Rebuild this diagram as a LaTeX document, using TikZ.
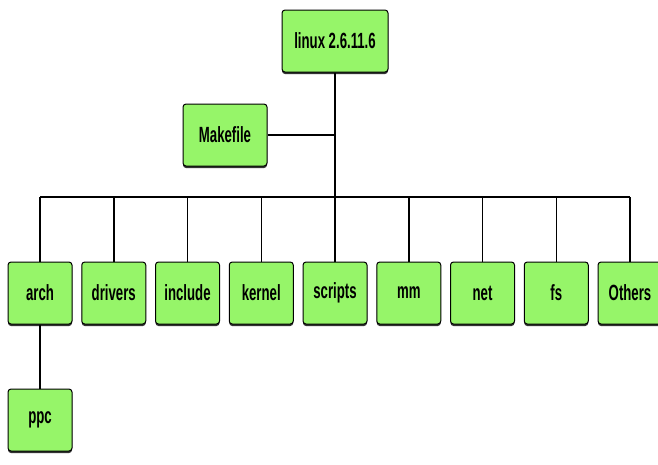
\documentclass[tikz,border=0pt]{standalone}
\usepackage{fontspec}
\setmainfont{Liberation Sans}[FakeStretch=0.6]
\usepackage{tikz}
\usetikzlibrary{shadows}
\definecolor{boxgreen}{RGB}{150,245,105}

\begin{document}
\begin{tikzpicture}[x=1pt, y=-1pt, line width=1.5pt,
  dirbox/.style={draw=black, line width=1pt, fill=boxgreen, rounded corners=3pt,
    minimum width=64pt, minimum height=62pt, inner sep=0pt,
    font=\fontsize{22}{24}\selectfont\bfseries,
    drop shadow={shadow xshift=0pt, shadow yshift=-2pt, fill=black!80, opacity=1}}]

\useasboundingbox (0, 0) rectangle (658, 464);

% draw top boxes
\node[dirbox, minimum width=106pt] (linux) at (335, 41) {linux 2.6.11.6};
\node[dirbox, minimum width=84pt] (makefile) at (225, 135) {Makefile};

% draw sub directories
\foreach \name/\txt [count=\i from 0] in {arch/arch, drivers/drivers, include/include,
    kernel/kernel, scripts/scripts, mm/mm, net/net, fs/fs, others/Others}
  \node[dirbox] (\name) at (40 + 73.75*\i, 293) {\txt};
\node[dirbox] (ppc) at (40, 420) {ppc};

% draw connections
\coordinate (bus) at (335, 197);
\draw (linux) -- (linux |- bus);
\draw (makefile.east) -- (makefile.east -| linux);
\draw (arch.north |- bus) -- (others.north |- bus);
\foreach \name in {arch, drivers, include, kernel, scripts, mm, net, fs, others}
  \draw (\name.north) -- (\name.north |- bus);
\draw (arch) -- (ppc);

\end{tikzpicture}
\end{document}
